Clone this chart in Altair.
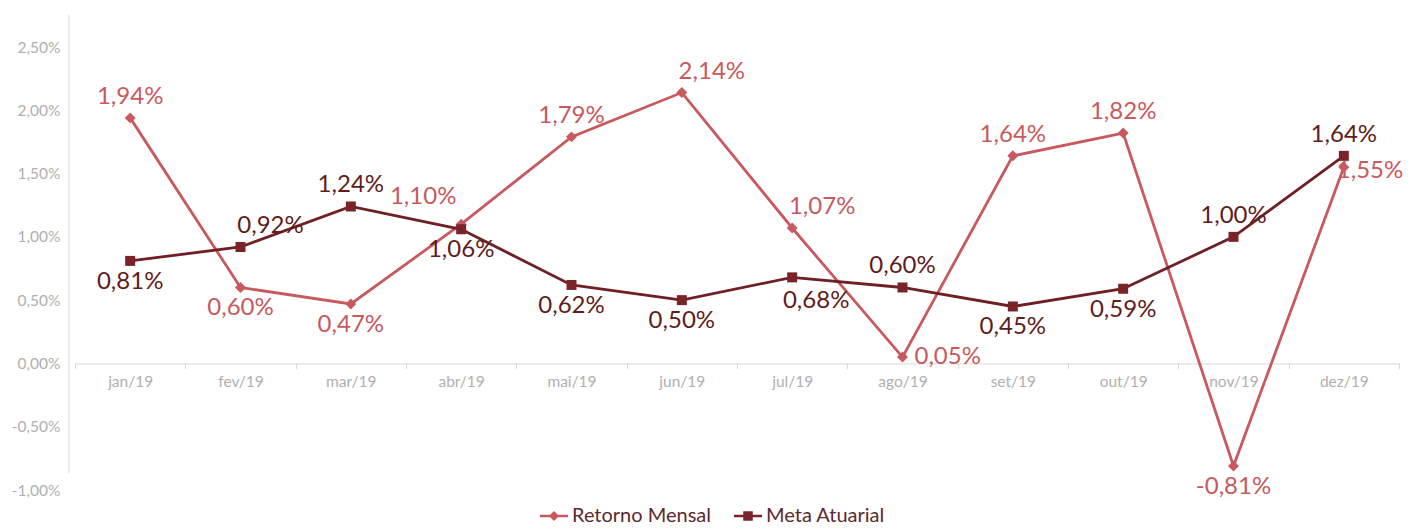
import altair as alt
import pandas as pd

# ---------------- data ----------------
months = ["jan/19", "fev/19", "mar/19", "abr/19", "mai/19", "jun/19",
          "jul/19", "ago/19", "set/19", "out/19", "nov/19", "dez/19"]
retorno_mensal = [1.94, 0.60, 0.47, 1.10, 1.79, 2.14, 1.07, 0.05, 1.64, 1.82, -0.81, 1.55]
meta_atuarial = [0.81, 0.92, 1.24, 1.06, 0.62, 0.50, 0.68, 0.60, 0.45, 0.59, 1.00, 1.64]
series_names = ["Retorno Mensal", "Meta Atuarial"]
y_ticks = [-1.0, -0.5, 0.0, 0.5, 1.0, 1.5, 2.0, 2.5]

# ---------------- style ----------------
RET_LINE = "#C8595E"
MET_LINE = "#6E2025"
MET_POINT = "#7A2429"
RET_TEXT = "#C8595E"
MET_TEXT = "#5E1C21"
AXIS_GRAY = "#D9D9D9"
LABEL_GRAY = "#B0B0B0"
FONT = "Lato"

# label placement per point (style only)
ret_place = ["above", "below", "below", "above_left", "above", "above_right",
             "above_right", "right", "above", "above", "below", "right_tight"]
met_place = ["below", "above_right", "above", "below", "below", "below",
             "below_right", "above", "below", "below", "above", "above"]
PLACEMENTS = {
    "above": dict(dx=0, dy=-21, align="center"),
    "below": dict(dx=0, dy=21, align="center"),
    "above_right": dict(dx=30, dy=-21, align="center"),
    "above_left": dict(dx=-38, dy=-27, align="center"),
    "below_right": dict(dx=24, dy=24, align="center"),
    "right": dict(dx=12, dy=0, align="left"),
    "right_tight": dict(dx=-7, dy=4, align="left"),
}

W, H = 1324, 443
Y_MIN, Y_MAX = -1.0, 2.5
zero_offset = -(H * (0 - Y_MIN) / (Y_MAX - Y_MIN))

rows = []
for i, m in enumerate(months):
    rows.append(dict(month=m, series=series_names[0], value=retorno_mensal[i], place=ret_place[i]))
for i, m in enumerate(months):
    rows.append(dict(month=m, series=series_names[1], value=meta_atuarial[i], place=met_place[i]))
df = pd.DataFrame(rows)

pct_expr = "replace(replace(format({v}, '.2f'), '.', ','), '\u2212', '-') + '%'"

x_enc = alt.X(
    "month:N", sort=months,
    scale=alt.Scale(type="band", paddingInner=0, paddingOuter=0),
    axis=alt.Axis(title=None, orient="bottom", offset=zero_offset, labelAngle=0,
                  domainColor=AXIS_GRAY, tickColor=AXIS_GRAY, tickSize=5, tickBand="extent",
                  labelColor=LABEL_GRAY, labelFont=FONT, labelFontSize=15.5, labelPadding=6,
                  grid=False),
)
y_enc = alt.Y(
    "value:Q",
    scale=alt.Scale(domain=[Y_MIN, Y_MAX], nice=False, zero=False),
    axis=alt.Axis(title=None, values=y_ticks, labelExpr=pct_expr.format(v="datum.value"),
                  domain=False, ticks=False, grid=False, offset=6, labelPadding=9,
                  labelColor=LABEL_GRAY, labelFont=FONT, labelFontSize=15.5),
)

RET_PATH = "M-1,-0.09L1,-0.09L1,0.09L-1,0.09Z M0,-0.36L0.36,0L0,0.36L-0.36,0Z"
MET_PATH = "M-1,-0.09L1,-0.09L1,0.09L-1,0.09Z M-0.34,-0.34L0.34,-0.34L0.34,0.34L-0.34,0.34Z"

legend = alt.Legend(
    title=None, orient="none", legendX=465, legendY=455, direction="horizontal",
    labelFont=FONT, labelFontSize=20, labelColor="#5B2A2E", labelOffset=4,
    symbolSize=784, columnPadding=22, symbolOpacity=1, symbolStrokeWidth=0,
)

base = alt.Chart(df).encode(x=x_enc, y=y_enc)

ret_line = base.transform_filter(alt.datum.series == series_names[0]).mark_line(
    color=RET_LINE, strokeWidth=2.8)
met_line = base.transform_filter(alt.datum.series == series_names[1]).mark_line(
    color=MET_LINE, strokeWidth=2.8)
ret_pts = base.transform_filter(alt.datum.series == series_names[0]).mark_point(
    shape="diamond", filled=True, size=120, opacity=1, color=RET_LINE)
met_pts = base.transform_filter(alt.datum.series == series_names[1]).mark_point(
    shape="square", filled=True, size=100, opacity=1, color=MET_POINT)

# legend-only layer (no data drawn; explicit domains keep both entries)
legend_layer = base.transform_filter("false").mark_point(filled=True, opacity=1).encode(
    color=alt.Color("series:N", scale=alt.Scale(domain=series_names, range=[RET_LINE, MET_POINT]),
                    legend=legend),
    shape=alt.Shape("series:N", scale=alt.Scale(domain=series_names, range=[RET_PATH, MET_PATH]),
                    legend=legend),
)

label_layers = []
for name, p in PLACEMENTS.items():
    lay = base.transform_filter(alt.datum.place == name).transform_calculate(
        label=pct_expr.format(v="datum.value")
    ).mark_text(dx=p["dx"], dy=p["dy"], align=p["align"], baseline="middle",
                font=FONT, fontSize=24).encode(
        text="label:N",
        color=alt.condition(alt.datum.series == series_names[0], alt.value(RET_TEXT), alt.value(MET_TEXT)),
    )
    label_layers.append(lay)

y_rule = alt.Chart(pd.DataFrame({"a": [0]})).mark_rule(color=AXIS_GRAY, strokeWidth=1).encode(
    x=alt.value(-6), y=alt.value(-32), y2=alt.value(H - 17))

chart = alt.layer(y_rule, ret_line, met_line, ret_pts, met_pts, legend_layer, *label_layers).properties(
    width=W, height=H,
    padding={"left": 67, "top": 39, "right": 4, "bottom": 39},
    autosize=alt.AutoSizeParams(type="none"),
).configure(font=FONT, view=alt.ViewConfig(stroke="transparent", strokeWidth=0))

chart.save("out.html", embed_options={"renderer": "svg", "actions": False})
